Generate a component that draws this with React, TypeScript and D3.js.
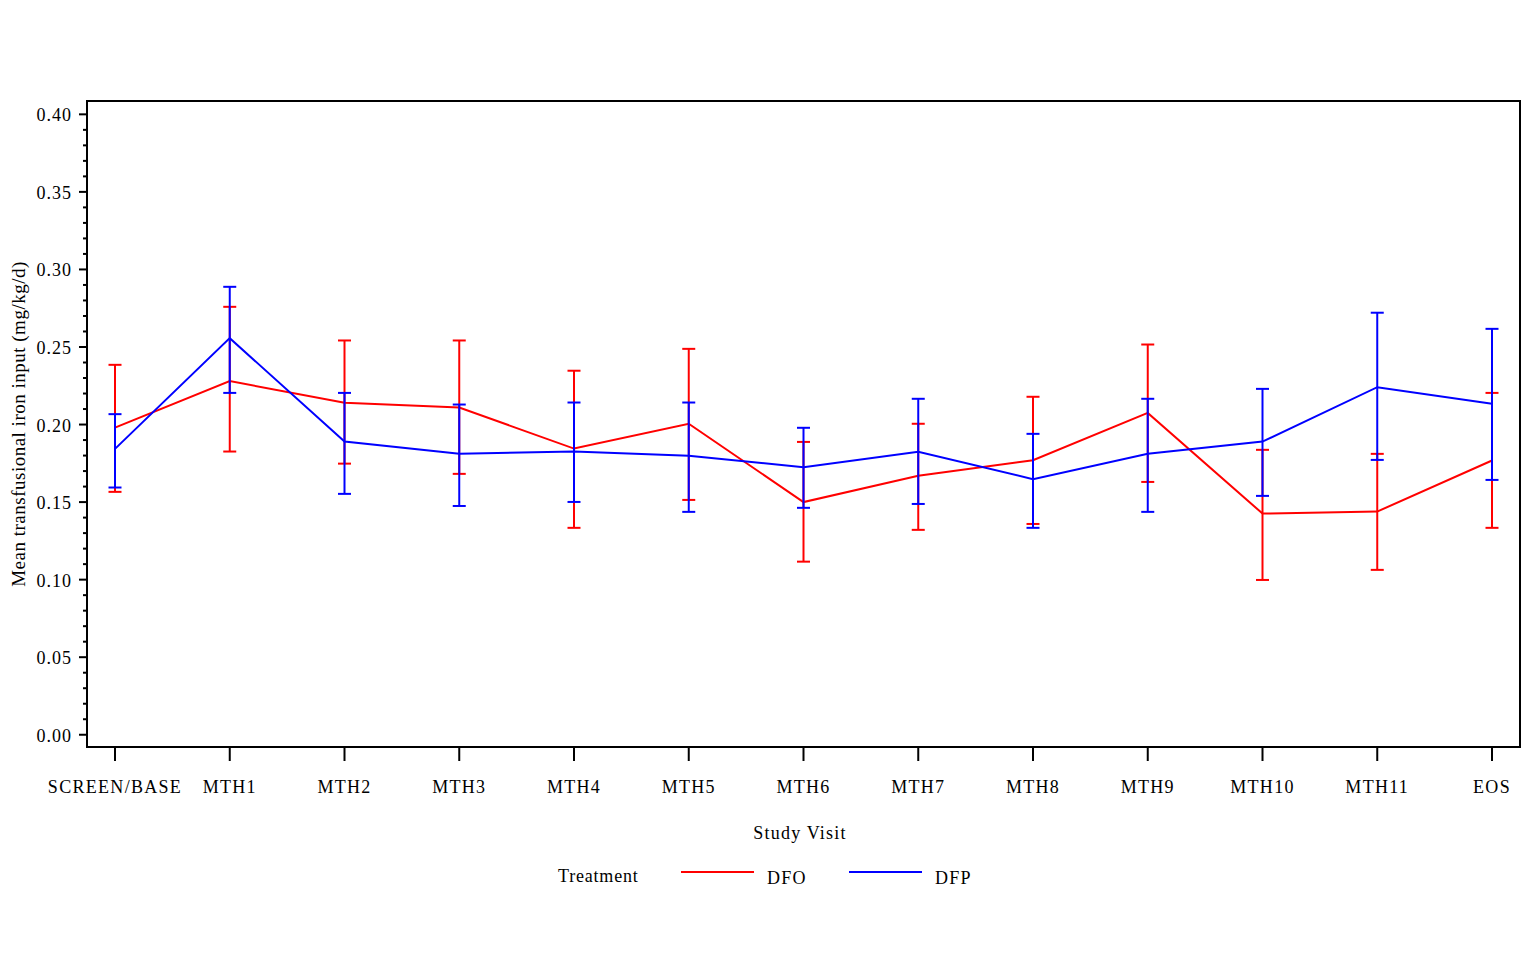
import * as d3 from "d3";
import { useEffect, useRef } from "react";

const visits = [
  "SCREEN/BASE", "MTH1", "MTH2", "MTH3", "MTH4", "MTH5", "MTH6",
  "MTH7", "MTH8", "MTH9", "MTH10", "MTH11", "EOS",
];

// DFO (red)
const dfoMean = [0.198, 0.228, 0.214, 0.211, 0.1845, 0.2005, 0.150, 0.167, 0.177, 0.2075, 0.1426, 0.1439, 0.1768];
const dfoLow = [0.1566, 0.1826, 0.1748, 0.1682, 0.1334, 0.1514, 0.1116, 0.1321, 0.1359, 0.163, 0.0998, 0.1063, 0.1334];
const dfoHigh = [0.2385, 0.2759, 0.2542, 0.2542, 0.2347, 0.2488, 0.1888, 0.2005, 0.2179, 0.2516, 0.1837, 0.1811, 0.2204];

// DFP (blue)
const dfpMean = [0.1843, 0.2557, 0.189, 0.1811, 0.1826, 0.1798, 0.1725, 0.1824, 0.1648, 0.1811, 0.189, 0.2241, 0.2134];
const dfpLow = [0.1594, 0.2204, 0.1553, 0.1475, 0.1501, 0.1437, 0.1463, 0.1488, 0.1334, 0.1437, 0.154, 0.1772, 0.1643];
const dfpHigh = [0.2067, 0.2888, 0.2204, 0.2129, 0.2142, 0.2142, 0.1979, 0.2166, 0.194, 0.2166, 0.223, 0.2721, 0.2617];

const yTicks = [0, 0.05, 0.1, 0.15, 0.2, 0.25, 0.3, 0.35, 0.4];

const series = [
  { name: "DFO", color: "#ff0000", mean: dfoMean, low: dfoLow, high: dfoHigh },
  { name: "DFP", color: "#0000ff", mean: dfpMean, low: dfpLow, high: dfpHigh },
];

export default function App() {
  const ref = useRef<SVGSVGElement>(null);

  useEffect(() => {
    const svg = d3.select(ref.current);
    svg.selectAll("*").remove();

    const width = 1515;
    const height = 945;
    const left = 79;
    const top = 93;
    const right = 1512;
    const bottom = 739;
    const font = "'Liberation Serif', 'Times New Roman', serif";

    svg.attr("width", width).attr("height", height).style("display", "block");

    const x = d3.scalePoint<string>().domain(visits).range([left, right]).padding(0.244);
    const y = d3.scaleLinear().domain([-0.0079, 0.4086]).range([bottom, top]);

    // frame
    svg.append("rect")
      .attr("x", left).attr("y", top)
      .attr("width", right - left).attr("height", bottom - top)
      .attr("fill", "none").attr("stroke", "#000").attr("stroke-width", 2);

    // y axis: major + minor ticks
    const minor = d3.range(0, 0.4001, 0.01).filter((v) => Math.round(v * 100) % 5 !== 0);
    svg.append("g").selectAll("line.minor").data(minor).enter().append("line")
      .attr("x1", left - 4).attr("x2", left - 1)
      .attr("y1", (d) => y(d)).attr("y2", (d) => y(d))
      .attr("stroke", "#000").attr("stroke-width", 2);

    const yg = svg.append("g");
    yg.selectAll("line").data(yTicks).enter().append("line")
      .attr("x1", left - 8).attr("x2", left - 1)
      .attr("y1", (d) => y(d)).attr("y2", (d) => y(d))
      .attr("stroke", "#000").attr("stroke-width", 2);
    yg.selectAll("text").data(yTicks).enter().append("text")
      .attr("x", left - 15).attr("y", (d) => y(d) + 7)
      .attr("text-anchor", "end")
      .attr("font-family", font).attr("font-size", 18)
      .attr("letter-spacing", 1)
      .text((d) => d3.format(".2f")(d));

    svg.append("text")
      .attr("transform", `translate(17,${(top + bottom) / 2}) rotate(-90)`)
      .attr("text-anchor", "middle")
      .attr("font-family", font).attr("font-size", 19)
      .attr("letter-spacing", 0.5)
      .text("Mean transfusional iron input (mg/kg/d)");

    // x axis
    const xg = svg.append("g");
    xg.selectAll("line").data(visits).enter().append("line")
      .attr("x1", (d) => x(d)!).attr("x2", (d) => x(d)!)
      .attr("y1", bottom + 1).attr("y2", bottom + 14)
      .attr("stroke", "#000").attr("stroke-width", 2);
    xg.selectAll("text").data(visits).enter().append("text")
      .attr("x", (d) => x(d)!).attr("y", bottom + 46)
      .attr("text-anchor", "middle")
      .attr("font-family", font).attr("font-size", 18)
      .attr("letter-spacing", 1.3)
      .text((d) => d);

    svg.append("text")
      .attr("x", 792).attr("y", 831)
      .attr("text-anchor", "middle")
      .attr("font-family", font).attr("font-size", 18)
      .attr("letter-spacing", 1.2)
      .text("Study Visit");

    // series
    const line = d3.line<number>()
      .x((_, i) => x(visits[i])!)
      .y((d) => y(d));

    const capW = 6.5;
    series.forEach((s) => {
      const g = svg.append("g");
      g.append("path")
        .attr("d", line(s.mean))
        .attr("fill", "none").attr("stroke", s.color).attr("stroke-width", 2);
      const bars = g.selectAll("g.bar").data(visits).enter().append("g");
      bars.append("line")
        .attr("x1", (d) => x(d)!).attr("x2", (d) => x(d)!)
        .attr("y1", (_, i) => y(s.low[i])).attr("y2", (_, i) => y(s.high[i]))
        .attr("stroke", s.color).attr("stroke-width", 2);
      bars.append("line")
        .attr("x1", (d) => x(d)! - capW).attr("x2", (d) => x(d)! + capW)
        .attr("y1", (_, i) => y(s.high[i])).attr("y2", (_, i) => y(s.high[i]))
        .attr("stroke", s.color).attr("stroke-width", 2);
      bars.append("line")
        .attr("x1", (d) => x(d)! - capW).attr("x2", (d) => x(d)! + capW)
        .attr("y1", (_, i) => y(s.low[i])).attr("y2", (_, i) => y(s.low[i]))
        .attr("stroke", s.color).attr("stroke-width", 2);
    });

    // legend
    const lg = svg.append("g");
    lg.append("text")
      .attr("x", 550).attr("y", 874)
      .attr("font-family", font).attr("font-size", 18)
      .attr("letter-spacing", 0.8)
      .text("Treatment");
    const legendPos = [673, 841];
    series.forEach((s, i) => {
      lg.append("line")
        .attr("x1", legendPos[i]).attr("x2", legendPos[i] + 73)
        .attr("y1", 864).attr("y2", 864)
        .attr("stroke", s.color).attr("stroke-width", 2);
      lg.append("text")
        .attr("x", legendPos[i] + 86).attr("y", 876)
        .attr("font-family", font).attr("font-size", 18)
        .attr("letter-spacing", 1.2)
        .text(s.name);
    });
  }, []);

  return <svg ref={ref} />;
}
